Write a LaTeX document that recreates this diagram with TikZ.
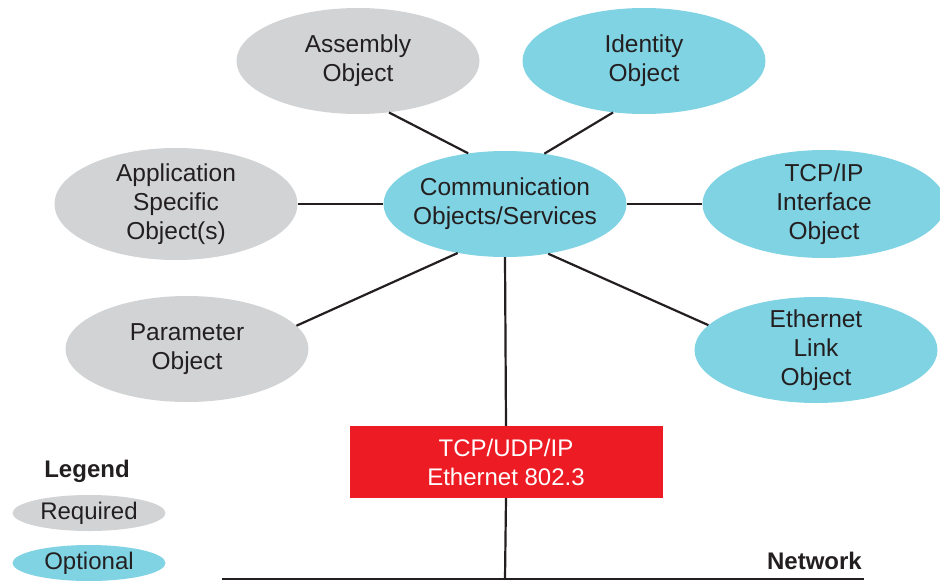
\documentclass[tikz,border=0pt]{standalone}
\usepackage{fontspec}
\setmainfont{Liberation Sans}
\usetikzlibrary{shapes.geometric}
\definecolor{reqgray}{HTML}{D1D3D4}
\definecolor{optblue}{HTML}{80D3E3}
\definecolor{stackred}{HTML}{ED1C24}
\definecolor{inktxt}{HTML}{231F20}
\begin{document}
\begin{tikzpicture}[x=1pt,y=-1pt,
    obj/.style={ellipse,inner sep=-20pt,minimum width=243pt,minimum height=106pt,
      align=center,text=inktxt,font=\fontsize{24.5}{29}\selectfont},
    req/.style={obj,fill=reqgray},
    opt/.style={obj,fill=optblue},
    keyobj/.style={minimum width=153pt,minimum height=36pt,font=\fontsize{24}{29}\selectfont}]
  \useasboundingbox (0,0) rectangle (940,581);
  \draw
    (358,61) node[req] (asm){Assembly\\Object}
    (644,61) node[opt] (ident){Identity\\Object}
    (176,204) node[req,minimum height=112pt] (app){Application\\Specific\\Object(s)}
    (505,204) node[opt] (comm){Communication\\Objects/Services}
    (824,204) node[opt,minimum height=108pt] (tcpif){TCP/IP\\Interface\\Object}
    (187,349) node[req] (param){Parameter\\Object}
    (816,350) node[opt,minimum height=106pt] (ethlink){Ethernet\\Link\\Object};
  \node[fill=stackred,text=white,minimum width=313pt,minimum height=72pt,inner sep=0pt,
    align=center,font=\fontsize{24}{29}\selectfont] (stack) at (506,462) {TCP/UDP/IP\\Ethernet 802.3};
  \coordinate (netL) at (222,579);
  \coordinate (netR) at (864,579);
  \coordinate (tap) at (505,579);
  \node[anchor=south east,inner sep=0pt,text=inktxt,font=\fontsize{24}{29}\selectfont\bfseries] (net) at (862,570) {Network};
  % legend
  \node[text=inktxt,font=\fontsize{24}{29}\selectfont\bfseries] (legend) at (87,471) {Legend};
  \node[req,keyobj] (keyreq) at (89,513) {Required};
  \node[opt,keyobj] (keyopt) at (89,563) {Optional};
  \begin{scope}[-,line width=2.2pt,draw=inktxt]
    \draw (comm.126) to (asm.301);
    \draw (comm.52) to (ident.239);
    \draw (comm.west) to (app.east);
    \draw (comm.east) to (tcpif.west);
    \draw (comm.226) to (param.12);
    \draw (comm.311) to (ethlink.167);
    \draw (comm.south) to (stack.north);
    \draw (stack.south) to (tap);
    \draw (netL) to (netR);
  \end{scope}
\end{tikzpicture}
\end{document}
